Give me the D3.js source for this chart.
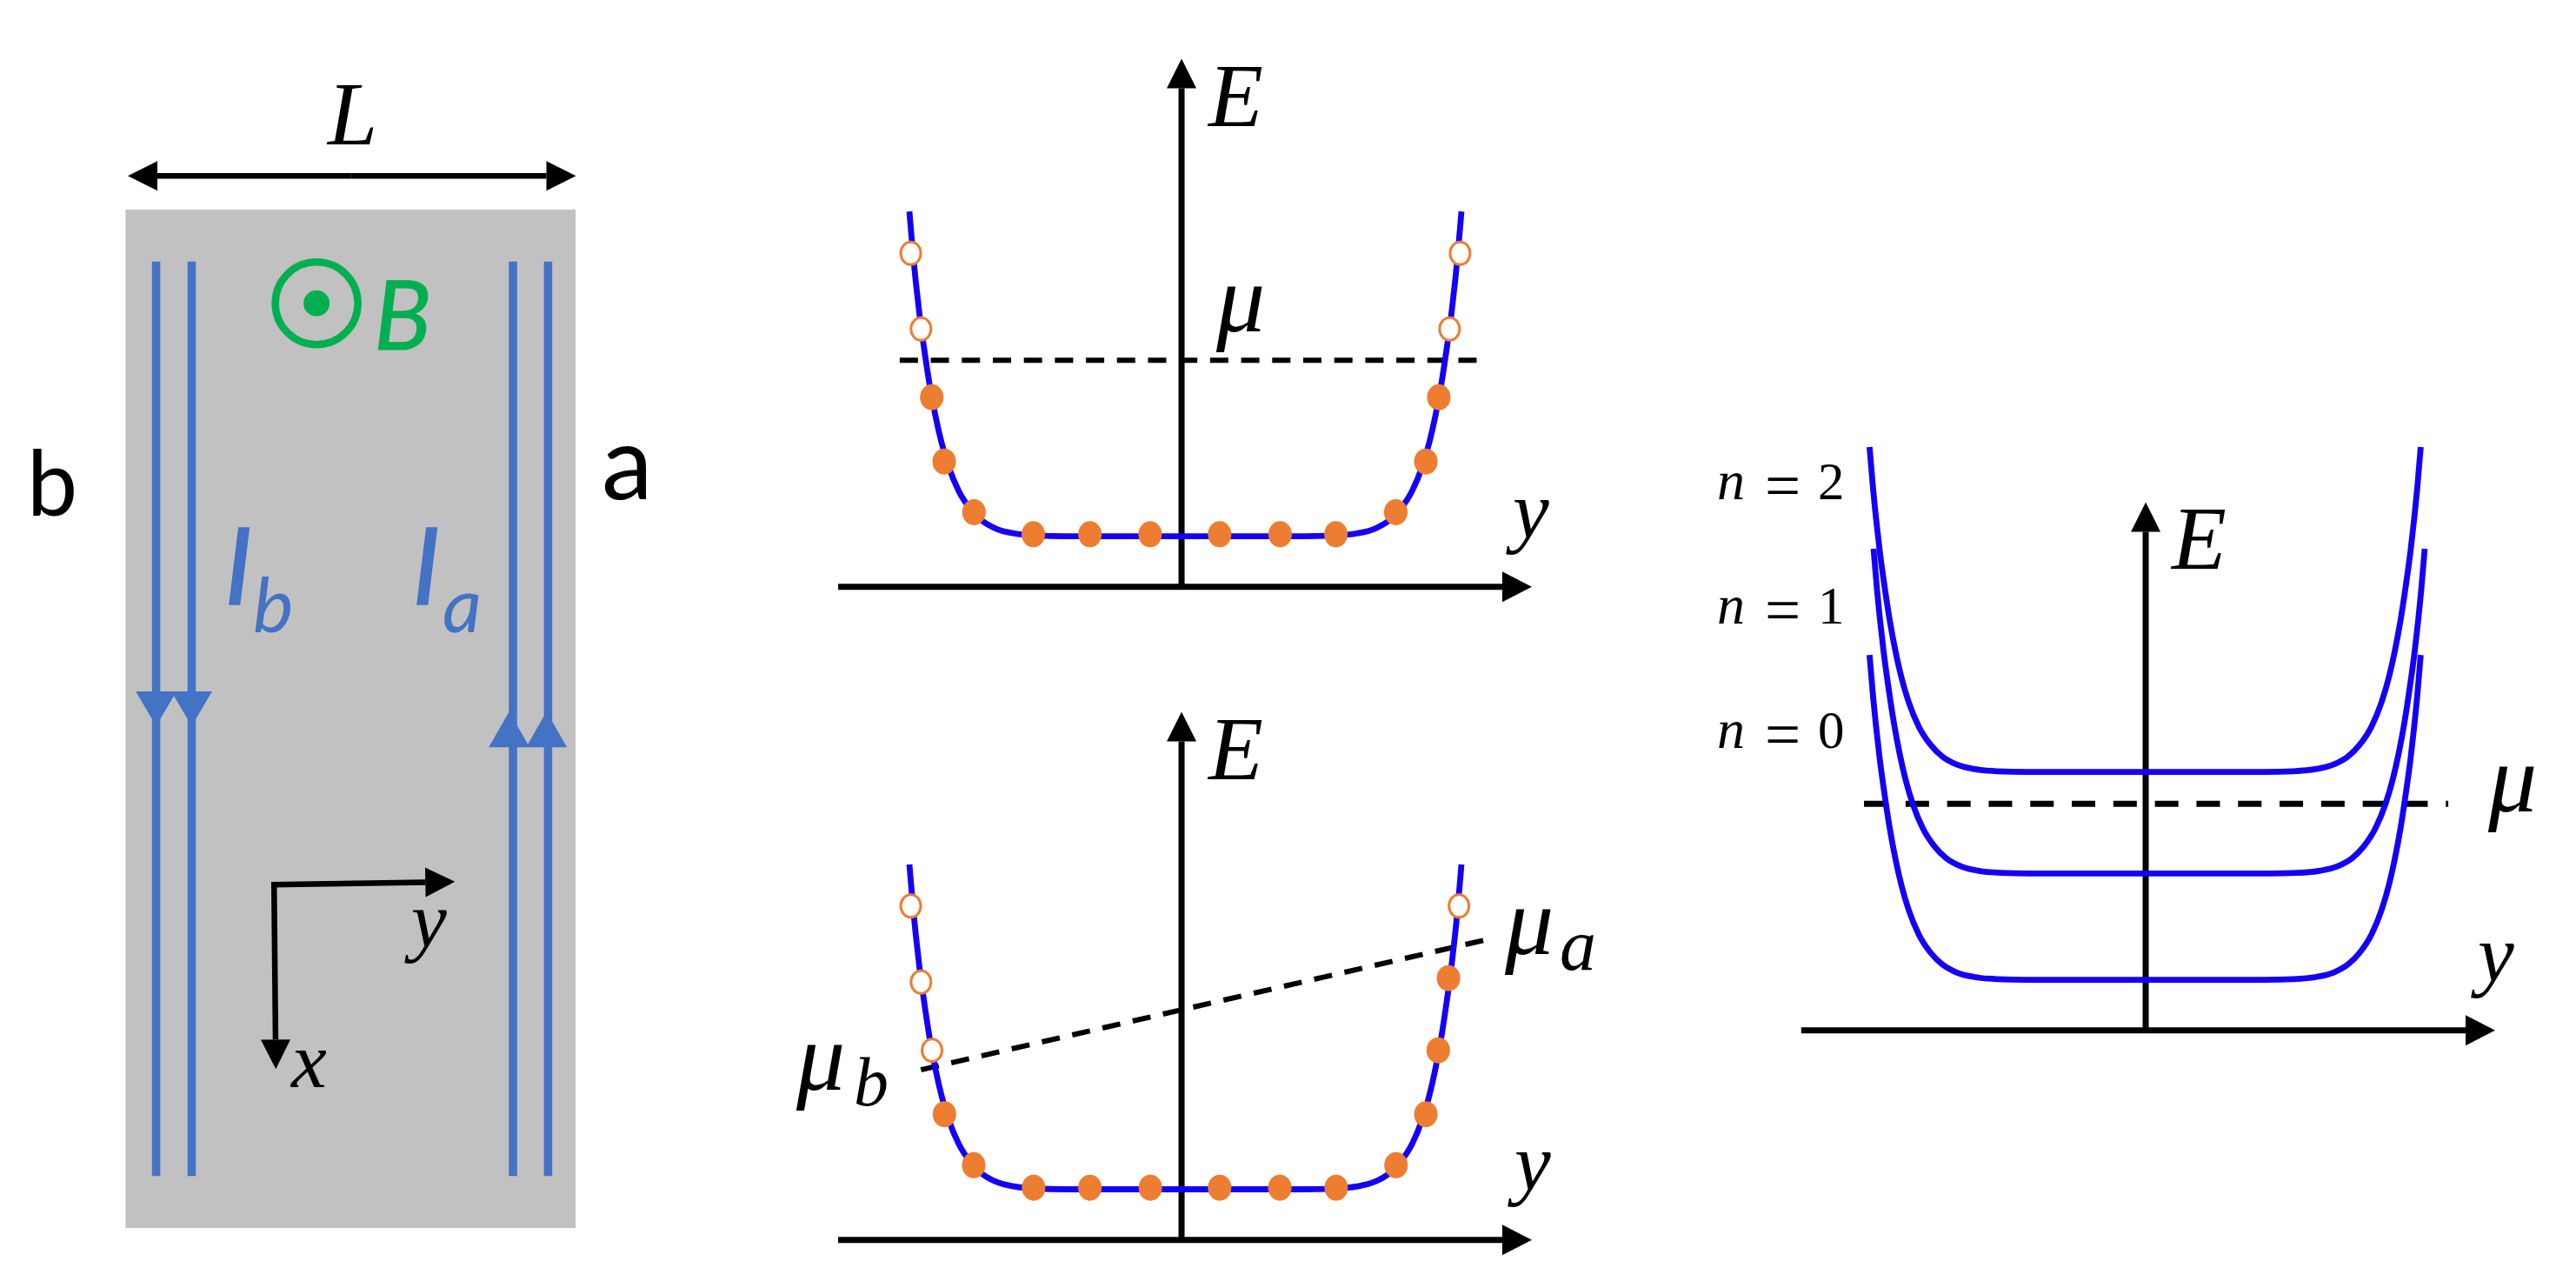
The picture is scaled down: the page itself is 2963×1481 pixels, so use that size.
<!DOCTYPE html>
<html><head><meta charset="utf-8">
<script src="https://cdn.jsdelivr.net/npm/d3@7"></script>
<style>html,body{margin:0;padding:0;background:#fff}svg{display:block}</style>
</head><body><svg id="c" width="2963" height="1481"></svg>
<script>
// ---- data (normalised: position u along y, energy E above band bottom) ----
const curveU   = [-1,-.987,-.977,-.963,-.947,-.926,-.905,-.884,-.858,-.821,-.779,-.737,-.685,-.622,-.538,-.433,0,.433,.538,.622,.685,.737,.779,.821,.858,.884,.905,.926,.947,.963,.977,.987,1];
const bandN0   = [1,.87,.785,.68,.58,.463,.368,.29,.215,.139,.084,.048,.023,.009,.002,0,0,0,.002,.009,.023,.048,.084,.139,.215,.29,.368,.463,.58,.68,.785,.87,1];
const bandN1   = [1.327,1.197,1.112,1.007,.907,.79,.695,.617,.542,.466,.411,.375,.35,.336,.329,.327,.327,.327,.329,.336,.35,.375,.411,.466,.542,.617,.695,.79,.907,1.007,1.112,1.197,1.327];
const bandN2   = [1.64,1.51,1.425,1.32,1.22,1.103,1.008,.93,.855,.779,.724,.688,.663,.649,.642,.64,.64,.64,.642,.649,.663,.688,.724,.779,.855,.93,1.008,1.103,1.22,1.32,1.425,1.51,1.64];

const topFilledU = [-.919,-.874,-.766,-.551,-.346,-.128,.124,.343,.545,.762,.871,.918];
const topFilledE = [.428,.23,.074,.006,.006,.006,.006,.006,.006,.074,.23,.428];
const topOpenU   = [-.995,-.958,.957,.995];
const topOpenE   = [.871,.638,.638,.871];

const midFilledU = [-.873,-.767,-.55,-.346,-.127,.124,.342,.546,.763,.871,.916,.953];
const midFilledE = [.231,.074,.005,.005,.005,.005,.005,.005,.074,.231,.428,.65];
const midOpenU   = [-.995,-.958,-.918,.991];
const midOpenE   = [.872,.638,.428,.872];

const muFlatU  = [-1.035,1.063];
const muFlatE  = [.542,.542];
const muTiltU  = [-.958,1.083];
const muTiltE  = [.368,.767];
const muRightU = [-1.02,1.1];
const muRightE = [.542,.542];

const levelLabels = ["2","1","0"];
const channelsB = [.068,.147];
const channelsA = [.861,.939];
const channelTipDownV = .507;
const channelBaseDownV = .473;
const channelTipUpV = .493;
const channelBaseUpV = .528;
const channelHeadsA = [.8525,.9355];

// ---- helpers ----
const svg = d3.select("#c");
const BLACK="#000", BLUE="#1400f5", ORANGE="#ed7d31", EDGE="#4472c4", GREEN="#00b050", SERIF="'Liberation Serif',serif", SANS="Lato,sans-serif";
const zip=(a,b)=>a.map((v,i)=>[v,b[i]]);
function arrow(g,x1,y1,x2,y2,w,len,half,col=BLACK){
  const a=Math.atan2(y2-y1,x2-x1), bx=x2-len*Math.cos(a), by=y2-len*Math.sin(a), nx=-Math.sin(a), ny=Math.cos(a);
  g.append("line").attr("x1",x1).attr("y1",y1).attr("x2",bx).attr("y2",by).attr("stroke",col).attr("stroke-width",w);
  g.append("path").attr("d",d3.line()([[x2,y2],[bx+nx*half,by+ny*half],[bx-nx*half,by-ny*half]])+"Z").attr("fill",col);
}
function label(t,x,y,size,opt={}){
  const s=svg.append("text").text(t).attr("x",x).attr("y",y).attr("font-size",size)
    .attr("font-family",opt.family||SERIF).attr("font-style",opt.style||"italic")
    .attr("font-weight",opt.weight||400).attr("fill",opt.fill||BLACK);
  if(opt.bold) s.attr("stroke",opt.fill).attr("stroke-width",opt.bold);
  return s;
}

// ---- left panel ----
const px=d3.scaleLinear().domain([0,1]).range([144.4,662]);
const py=d3.scaleLinear().domain([0,1]).range([241,1412]);
const left=svg.append("g");
left.append("rect").attr("x",px(0)).attr("y",py(0)).attr("width",px(1)-px(0)).attr("height",py(1)-py(0)).attr("fill","#c1c1c1");
const lenA=left.append("g");
arrow(lenA,px(.5),py(-.033),px(.005),py(-.033),6.5,34,17);
arrow(lenA,px(.5),py(-.033),px(1.001),py(-.033),6.5,34,17);
[...channelsB,...channelsA].forEach(c=>left.append("line").attr("x1",px(c)).attr("x2",px(c)).attr("y1",py(.051)).attr("y2",py(.949)).attr("stroke",EDGE).attr("stroke-width",9.5));
channelsB.forEach(c=>left.append("path").attr("fill",EDGE).attr("d",d3.line()([[px(c),py(channelTipDownV)],[px(c)-23.5,py(channelBaseDownV)],[px(c)+23.5,py(channelBaseDownV)]])+"Z"));
channelHeadsA.forEach(c=>left.append("path").attr("fill",EDGE).attr("d",d3.line()([[px(c),py(channelTipUpV)],[px(c)-23.5,py(channelBaseUpV)],[px(c)+23.5,py(channelBaseUpV)]])+"Z"));
left.append("circle").attr("cx",px(.4245)).attr("cy",py(.092)).attr("r",47.5).attr("fill","none").attr("stroke",GREEN).attr("stroke-width",8.5);
left.append("circle").attr("cx",px(.4245)).attr("cy",py(.092)).attr("r",15).attr("fill",GREEN);
const coordG=left.append("g");
arrow(coordG,px(.33)-3,py(.663),px(.732),py(.66),6.5,34,17);
arrow(coordG,px(.33),py(.663)-3,px(.334),py(.844),6.5,34,17);
label("L",377,166,103);
label("B",430,402,110,{family:SANS,fill:GREEN,bold:1});
label("I",258,695,123,{family:SANS,fill:EDGE,bold:1.5});
label("b",291,727,88,{family:SANS,fill:EDGE});
label("I",474,695,123,{family:SANS,fill:EDGE,bold:1.5});
label("a",509,727,88,{family:SANS,fill:EDGE});
label("b",31,593,104,{family:SANS,style:"normal"});
label("a",692,574,118,{family:SANS,style:"normal"});
label("y",473,1089,92);
label("x",335,1250,92);

// ---- energy panels ----
function panel(cx,half,flat,opts){
  const x=d3.scaleLinear().domain([-1,1]).range([cx-half,cx+half]);
  const y=d3.scaleLinear().domain([0,1]).range([flat,flat-373.5]);
  const g=svg.append("g");
  const ax=x(opts.axisU);
  arrow(g,ax,y(-.156),ax,y(1.47),7,opts.headY,17);
  arrow(g,x(opts.xFrom),y(-.156),x(opts.xTo),y(-.156),7,34,17.5);
  return {x,y,g};
}
const line=(x,y)=>d3.line().x(d=>x(d[0])).y(d=>y(d[1])).curve(d3.curveMonotoneX);
function curve(p,u,e,xs){p.g.append("path").attr("d",line(xs||p.x,p.y)(zip(u,e))).attr("fill","none").attr("stroke",BLUE).attr("stroke-width",6.8);}
function dash(p,u,e,w,arr){p.g.append("line").attr("x1",p.x(u[0])).attr("y1",p.y(e[0])).attr("x2",p.x(u[1])).attr("y2",p.y(e[1])).attr("stroke",BLACK).attr("stroke-width",w).attr("stroke-dasharray",arr);}
function dots(p,fu,fe,ou,oe){
  p.g.selectAll(null).data(zip(fu,fe)).join("ellipse").attr("cx",d=>p.x(d[0])).attr("cy",d=>p.y(d[1])).attr("rx",13.5).attr("ry",15).attr("fill",ORANGE);
  p.g.selectAll(null).data(zip(ou,oe)).join("ellipse").attr("cx",d=>p.x(d[0])).attr("cy",d=>p.y(d[1])).attr("rx",11.5).attr("ry",13).attr("fill","#fff").attr("stroke",ORANGE).attr("stroke-width",3);
}
const P1=panel(1363.5,317.5,616.6,{axisU:-.014,xFrom:-1.258,xTo:1.255,headY:34});
dash(P1,muFlatU,muFlatE,6,"21 14.7");
curve(P1,curveU,bandN0);
dots(P1,topFilledU,topFilledE,topOpenU,topOpenE);
label("E",1390,145,103);
label("μ",1399,381,112);
label("y",1740,618,94);

const P2=panel(1363.5,317.5,1367.5,{axisU:-.014,xFrom:-1.258,xTo:1.255,headY:34});
dash(P2,muTiltU,muTiltE,6,"21 14.7");
curve(P2,curveU,bandN0);
dots(P2,midFilledU,midFilledE,midOpenU,midOpenE);
label("E",1390,896,103);
label("y",1742,1368,94);
label("μ",1731,1097,112);
label("a",1794,1115,84);
label("b",982,1271,80);
label("μ",916,1253,112);

const P3=panel(2467.4,317,1126.6,{axisU:.002,xFrom:-1.248,xTo:1.27,headY:34});
dash(P3,muRightU,muRightE,7,"27 20.8");
curve(P3,curveU,bandN0);
curve(P3,curveU,bandN1,d3.scaleLinear().domain([-1,1]).range([2472-317,2472+317]));
curve(P3,curveU,bandN2);
label("E",2498,654,103);
label("μ",2862,933,112);
label("y",2850,1128,94);
levelLabels.forEach((d,i)=>{
  const base=574+143*i;
  label("n",1975,base,64);
  label("=",2030,base+9,73,{style:"normal"});
  label(d,2091,base,61,{style:"normal"});
});
</script></body></html>
